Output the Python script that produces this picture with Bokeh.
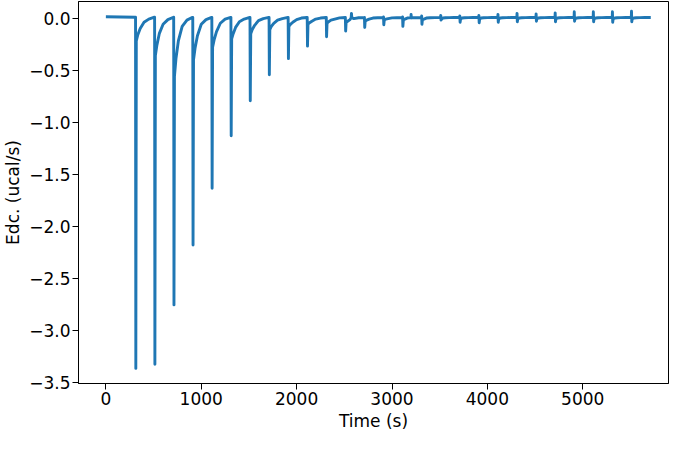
from bokeh.plotting import figure
from bokeh.models import FixedTicker, Range1d
from bokeh.embed import file_html
from bokeh.resources import INLINE

# ---- data (time in s, power in ucal/s) ----
inj_time = [310, 510, 710, 910, 1110, 1310, 1510, 1710, 1910, 2110, 2310, 2510, 2710,
            2910, 3110, 3310, 3510, 3710, 3910, 4110, 4310, 4510, 4710, 4910, 5110, 5310, 5510]
baseline = [0.008, 0.008, 0.008, 0.007, 0.007, 0.007, 0.006, 0.006, 0.006, 0.005, 0.005, 0.005, 0.004,
            0.003, 0.003, 0.004, 0.005, 0.005, 0.005, 0.005, 0.005, 0.005, 0.005, 0.005, 0.005, 0.005, 0.005]
spike_up = [0.008, 0.008, 0.008, 0.007, 0.007, 0.007, 0.006, 0.006, 0.006, 0.005, 0.005, 0.005, 0.006,
            0.010, 0.010, 0.020, 0.025, 0.020, 0.025, 0.035, 0.045, 0.040, 0.050, 0.060, 0.060, 0.060, 0.065]
peak = [-3.365, -3.325, -2.755, -2.18, -1.635, -1.13, -0.795, -0.545, -0.39, -0.27, -0.18, -0.125, -0.09,
        -0.065, -0.08, -0.06, -0.02, -0.04, -0.045, -0.04, -0.035, -0.03, -0.035, -0.03, -0.035, -0.04, -0.035]
knee = [-0.22, -0.36, -0.56, -0.40, -0.28, -0.20, -0.15, -0.11, -0.08, -0.06, -0.05, -0.04, -0.03,
        -0.02, -0.02, -0.015, -0.01, -0.01, -0.01, -0.01, -0.005, -0.005, -0.005, -0.005, -0.005, -0.005, -0.005]
rec25 = [-0.16, -0.26, -0.39, -0.29, -0.21, -0.15, -0.11, -0.08, -0.06, -0.045, -0.035, -0.03, -0.02,
         -0.01, -0.01, -0.01, 0.0, 0.0, 0.0, 0.0, 0.0, 0.0, 0.0, 0.0, 0.0, 0.0, 0.0]
rec50 = [-0.10, -0.15, -0.22, -0.17, -0.13, -0.09, -0.07, -0.05, -0.04, -0.03, -0.02, -0.015, -0.01,
         -0.005, 0.0, 0.0, 0.003, 0.003, 0.003, 0.003, 0.003, 0.003, 0.003, 0.003, 0.003, 0.003, 0.003]
rec90 = [-0.04, -0.06, -0.08, -0.06, -0.05, -0.035, -0.025, -0.02, -0.015, -0.01, -0.01, -0.005, 0.0,
         0.002, 0.002, 0.003, 0.004, 0.004, 0.004, 0.004, 0.004, 0.004, 0.004, 0.004, 0.004, 0.004, 0.004]
rec140 = [-0.01, -0.015, -0.02, -0.015, -0.01, -0.01, -0.005, -0.005, 0.0, 0.0, 0.002, 0.003, 0.003,
          0.003, 0.003, 0.004, 0.005, 0.005, 0.005, 0.005, 0.005, 0.005, 0.005, 0.005, 0.005, 0.005, 0.005]
bump_time = [2575, 3200]
bump_value = [0.045, 0.035]
start_time, start_value = 0, 0.012
end_time, end_value = 5713, 0.005

x_ticks = [0, 1000, 2000, 3000, 4000, 5000]
y_ticks = [0.0, -0.5, -1.0, -1.5, -2.0, -2.5, -3.0, -3.5]
y_tick_labels = ["0.0", "\u22120.5", "\u22121.0", "\u22121.5", "\u22122.0", "\u22122.5", "\u22123.0", "\u22123.5"]

# ---- assemble the trace vertices ----
pts = [(start_time, start_value)]
for i, t in enumerate(inj_time):
    pts += [(t - 1, baseline[i]), (t + 1, spike_up[i]), (t + 4, peak[i]), (t + 9, knee[i]),
            (t + 25, rec25[i]), (t + 50, rec50[i]), (t + 90, rec90[i]), (t + 140, rec140[i])]
for bt, bv in zip(bump_time, bump_value):
    pts += [(bt - 3, 0.004), (bt, bv), (bt + 3, 0.004)]
pts.append((end_time, end_value))
pts.sort()
xs = [p[0] for p in pts]
ys = [p[1] for p in pts]

FONT = "DejaVu Sans"
FS = "17px"

p = figure(width=669, height=434, output_backend="svg", toolbar_location=None,
           x_range=Range1d(-287, 5899), y_range=Range1d(-3.51, 0.159),
           min_border_left=71, min_border_right=1, min_border_top=1, min_border_bottom=51)
p.line(xs, ys, line_color="#1f77b4", line_width=2.9, line_join="round")

p.grid.visible = False
p.outline_line_color = "black"
p.outline_line_width = 1
p.background_fill_color = "white"
p.border_fill_color = "white"

p.xaxis.ticker = FixedTicker(ticks=x_ticks)
p.yaxis.ticker = FixedTicker(ticks=y_ticks)
p.yaxis.major_label_overrides = {v: s for v, s in zip(y_ticks, y_tick_labels)}
p.xaxis.axis_label = "Time (s)"
p.yaxis.axis_label = "Edc. (ucal/s)"
for ax in (p.xaxis, p.yaxis):
    ax.axis_line_color = "black"
    ax.major_tick_line_color = "black"
    ax.major_tick_out = 6
    ax.major_tick_in = 0
    ax.minor_tick_line_color = None
    ax.major_label_text_font = FONT
    ax.major_label_text_font_size = FS
    ax.major_label_text_color = "black"
    ax.axis_label_text_font = FONT
    ax.axis_label_text_font_size = FS
    ax.axis_label_text_font_style = "normal"
    ax.axis_label_text_color = "black"
    ax.major_label_standoff = 2
    ax.axis_label_standoff = 3

open("out.html", "w").write(file_html(p, INLINE))
